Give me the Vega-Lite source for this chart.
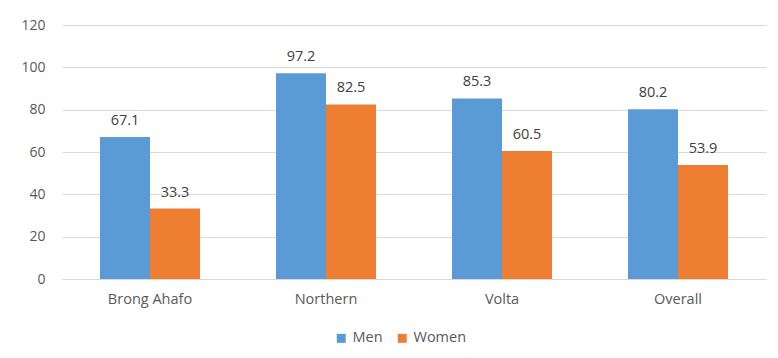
{
  "$schema": "https://vega.github.io/schema/vega-lite/v6.json",
  "autosize": {"type": "none"},
  "padding": {"left": 62, "top": 25, "right": 12, "bottom": 79},
  "width": 704,
  "height": 254,
  "background": "white",
  "data": {
    "values": [
      {"region": "Brong Ahafo", "sex": "Men", "value": 67.1},
      {"region": "Brong Ahafo", "sex": "Women", "value": 33.3},
      {"region": "Northern", "sex": "Men", "value": 97.2},
      {"region": "Northern", "sex": "Women", "value": 82.5},
      {"region": "Volta", "sex": "Men", "value": 85.3},
      {"region": "Volta", "sex": "Women", "value": 60.5},
      {"region": "Overall", "sex": "Men", "value": 80.2},
      {"region": "Overall", "sex": "Women", "value": 53.9}
    ]
  },
  "encoding": {
    "x": {
      "field": "region",
      "type": "nominal",
      "sort": ["Brong Ahafo", "Northern", "Volta", "Overall"],
      "scale": {"paddingInner": 0.432, "paddingOuter": 0.216},
      "axis": {
        "title": null,
        "labelAngle": 0,
        "labelPadding": 13,
        "labelFontSize": 14.5,
        "labelColor": "#595959",
        "domainColor": "#d9d9d9",
        "ticks": false
      }
    },
    "xOffset": {"field": "sex", "type": "nominal", "sort": ["Men", "Women"], "scale": {"paddingInner": 0, "paddingOuter": 0}},
    "y": {
      "field": "value",
      "type": "quantitative",
      "scale": {"domain": [0, 120], "nice": false},
      "axis": {
        "title": null,
        "values": [0, 20, 40, 60, 80, 100, 120],
        "domain": false,
        "ticks": false,
        "labelPadding": 17,
        "labelFontSize": 14,
        "labelColor": "#595959",
        "gridColor": "#d9d9d9",
        "gridWidth": 1
      }
    }
  },
  "layer": [
    {
      "mark": {"type": "bar"},
      "encoding": {
        "color": {
          "field": "sex",
          "type": "nominal",
          "sort": ["Men", "Women"],
          "scale": {"domain": ["Men", "Women"], "range": ["#5b9bd5", "#ed7d31"]},
          "legend": {
            "title": null,
            "orient": "none",
            "legendX": 272,
            "legendY": 306,
            "direction": "horizontal",
            "symbolType": "square",
            "symbolSize": 80,
            "symbolStrokeWidth": 0,
            "labelFontSize": 14.5,
            "labelColor": "#595959",
            "columnPadding": 12,
            "labelOffset": 4
          }
        }
      }
    },
    {
      "mark": {"type": "text", "baseline": "bottom", "dy": -9, "fontSize": 14.5, "color": "#404040"},
      "encoding": {
        "text": {"field": "value", "type": "quantitative", "format": ".1f"}
      }
    }
  ],
  "config": {
    "font": "Open Sans",
    "view": {"stroke": null}
  }
}
